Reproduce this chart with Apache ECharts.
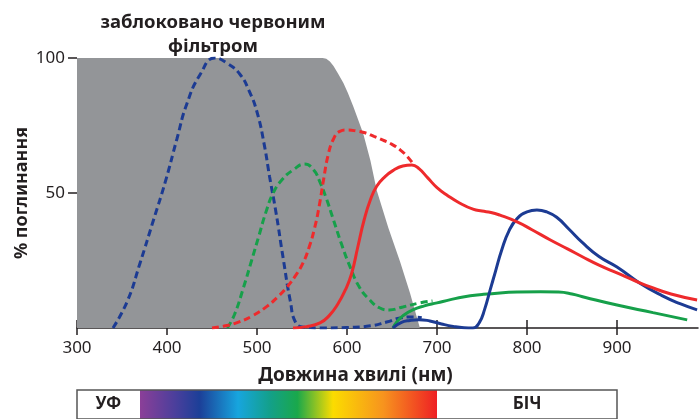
<!DOCTYPE html>
<html><head><meta charset="utf-8">
<script src="https://cdn.jsdelivr.net/npm/echarts@6/dist/echarts.min.js"></script>
<style>html,body{margin:0;padding:0;background:#fff}#c{width:700px;height:419px}</style>
</head><body><div id="c"></div>
<script>
// ---- data ----
const xTicks = [300, 400, 500, 600, 700, 800, 900];
const yTicks = [50, 100];
const titleText = 'заблоковано червоним\nфільтром';
const xName = 'Довжина хвилі (нм)';
const yName = '% поглинання';
// region blocked by red filter (nm, %)
const blockedArea = [[300,100],[573,100],[577,99.7],[581,98.7],[585,97],[590,94.3],[596,90.7],[601,87],[607,82],[612,77.5],[618,72],[626,62],[633,51],[646,37],[659,24.5],[670,13],[681,0]];
const blueDashed = [[340,0],[356,10],[370,24],[385,40],[398,54],[411,70],[422,83],[437,94],[453,100],[467,98],[481,94],[491,88],[500,80],[508,68],[514,56],[521,43],[529,26],[537,10],[543,2],[552,0.3],[575,0],[600,0.2],[626,0.8],[644,2.2],[659,3.7],[673,4.1],[683,3.8]];
const greenDashed = [[467,0],[475,5],[485,15],[494,25],[502,34],[510,43],[518,50],[528,55],[540,58.5],[553,60.7],[563,58.5],[570,54],[577,48],[585,40],[594,31],[603,23],[614,15],[625,10.5],[636,7.5],[647,6.7],[662,7.8],[681,9.3],[695,10]];
const redDashed = [[450,0],[465,0.8],[478,2],[495,4.5],[511,8],[523,11.5],[533,15],[543,19.5],[551,24],[558,30],[564,37],[569,45],[574,55],[579,64],[585,70],[592,72.8],[600,73.3],[610,73],[620,72.3],[630,71],[640,69.6],[650,68],[659,66],[667,63.5],[673,61]];
const blueSolid = [[651,0],[660,2],[670,2.8],[680,3.1],[692,2.6],[705,1.5],[718,0.6],[730,0.1],[740,0],[747,2],[753,7],[759,14],[765,21],[772,29],[780,36],[789,40.5],[800,43],[811,43.7],[822,43],[833,41],[847,36.5],[862,31.5],[880,26.5],[900,22.6],[925,16.7],[950,12],[970,9],[989,6.7]];
const greenSolid = [[651,0],[656,2.5],[662,4.5],[673,6.7],[686,8.2],[700,9.3],[715,10.5],[729,11.5],[750,12.4],[770,13],[790,13.3],[815,13.4],[835,13.3],[850,12.6],[865,11.3],[900,8.5],[940,5.7],[978,3]];
const redSolid = [[540,0],[555,0.5],[570,1.9],[580,4.5],[590,9],[598,14],[605,20],[612,30],[619,40],[626,47.5],[633,52.5],[642,56],[652,58.5],[662,60],[672,60.4],[680,59],[690,55.5],[700,52],[712,49],[725,46.3],[740,44],[750,43.3],[760,42.8],[770,41.8],[789,39.3],[805,36.5],[826,32.6],[845,29.3],[862,26.3],[880,23.3],[900,20.4],[920,17.5],[937,15.2],[960,12.6],[989,10.4]];
// spectrum bar bands (nm)
const bandEdges = [300, 370, 700, 900];
const bandNames = ['УФ', '', 'БІЧ'];

// ---- chart ----
const chart = echarts.init(document.getElementById('c'));
const FONT = 'Noto Sans';
const INK = '#231f20';
const C_BLUE = '#1c3b93', C_GREEN = '#16a04a', C_RED = '#ee2a2c';
const spectrum = {type:'linear', x:0, y:0, x2:1, y2:0, colorStops:[
  {offset:0, color:'#8b3f98'}, {offset:0.12, color:'#4a3f9c'}, {offset:0.2, color:'#1c3f98'},
  {offset:0.33, color:'#17a5de'}, {offset:0.44, color:'#13a088'}, {offset:0.53, color:'#1aa84b'},
  {offset:0.65, color:'#fbdc00'}, {offset:0.82, color:'#f7931e'}, {offset:1, color:'#ee2024'}]};
const bandColors = ['#ffffff', spectrum, '#ffffff'];

function line(data, color, dashed, z) {
  return {type:'line', data, xAxisIndex:0, yAxisIndex:0, symbol:'none', smooth:0.5, z,
    lineStyle:{color, width:3, type: dashed ? [7,4] : 'solid', cap:'butt'}};
}

const markData = bandNames.map((n, i) => [
  {name:n, xAxis:bandEdges[i], itemStyle:{color:bandColors[i], borderWidth:0}},
  {xAxis:bandEdges[i+1]}
]);
markData.push([{name:'', xAxis:bandEdges[0], itemStyle:{color:'rgba(0,0,0,0)', borderColor:'#555', borderWidth:1.5}}, {xAxis:bandEdges[bandEdges.length-1]}]);

chart.setOption({
  animation:false,
  backgroundColor:'#fff',
  title:{text:titleText, left:208, top:6, textAlign:'center',
    textStyle:{fontFamily:FONT, fontSize:18.5, fontWeight:'bold', color:INK, lineHeight:24}},
  grid:[
    {left:77, top:58, width:621, height:270},
    {left:77, top:58, width:621, height:270},
    {left:77, top:390, width:621, height:31}
  ],
  xAxis:[
    {gridIndex:0, type:'value', min:300, max:990, interval:100,
     name:xName, nameLocation:'middle', nameGap:38,
     nameTextStyle:{fontFamily:FONT, fontSize:19, fontWeight:'bold', color:INK, padding:[0,64,0,0]},
     axisLine:{lineStyle:{color:INK, width:1.5}},
     axisTick:{show:true, length:7, lineStyle:{color:INK, width:1.5}, customValues:xTicks},
     axisLabel:{fontFamily:FONT, fontSize:17, color:INK, margin:12, customValues:xTicks},
     splitLine:{show:false}},
    {gridIndex:1, type:'value', min:300, max:990, interval:100,
     axisLine:{show:false}, axisLabel:{show:false}, splitLine:{show:false},
     axisTick:{show:true, inside:true, length:8, lineStyle:{color:INK, width:1.5}, customValues:xTicks}},
    {gridIndex:2, type:'value', min:300, max:990, show:false}
  ],
  yAxis:[
    {gridIndex:0, type:'value', min:0, max:100, interval:50,
     name:yName, nameLocation:'middle', nameGap:46, nameRotate:90, nameMoveOverlap:false,
     nameTextStyle:{fontFamily:FONT, fontSize:18, fontWeight:'bold', color:INK},
     axisLine:{show:false},
     axisTick:{show:true, length:9, lineStyle:{color:INK, width:1.5}, customValues:yTicks},
     axisLabel:{fontFamily:FONT, fontSize:17, color:INK, margin:12, customValues:yTicks},
     splitLine:{show:false}},
    {gridIndex:1, type:'value', min:0, max:100, show:false},
    {gridIndex:2, type:'value', min:0, max:1, show:false}
  ],
  series:[
    {type:'line', data:blockedArea, xAxisIndex:0, yAxisIndex:0, symbol:'none', smooth:false, z:1,
     lineStyle:{width:0}, areaStyle:{color:'#939598', opacity:1}},
    line(blueDashed, C_BLUE, true, 3),
    line(greenDashed, C_GREEN, true, 3),
    line(redDashed, C_RED, true, 3),
    line(greenSolid, C_GREEN, false, 4),
    line(blueSolid, C_BLUE, false, 4),
    line(redSolid, C_RED, false, 4),
    {type:'line', data:[], xAxisIndex:2, yAxisIndex:2, silent:true,
     markArea:{silent:true, data:markData,
       label:{show:true, position:'inside', fontFamily:FONT, fontSize:17, fontWeight:'bold', color:INK}}}
  ]
});
</script></body></html>
